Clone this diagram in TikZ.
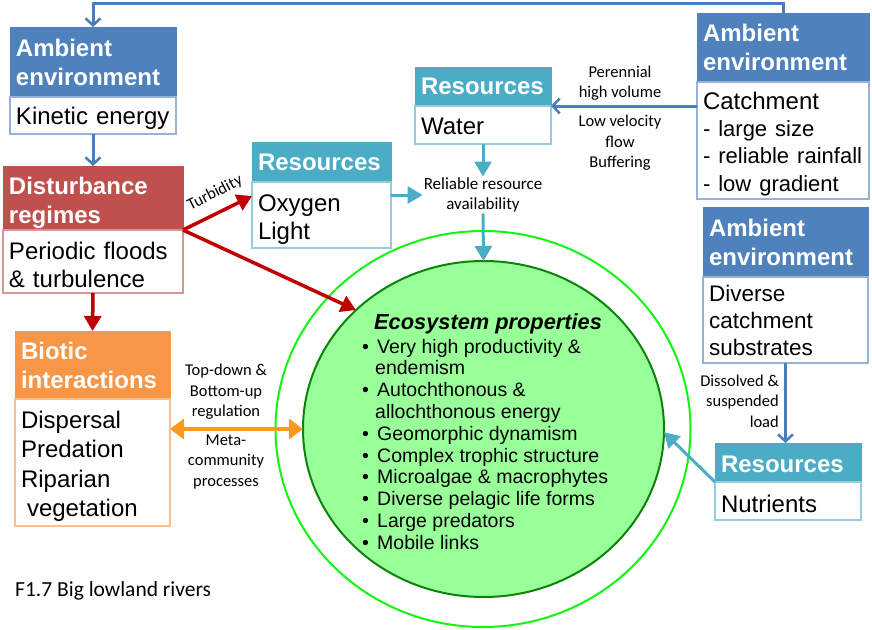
\documentclass[tikz,border=0pt]{standalone}
\usepackage{fontspec}
\setmainfont{Liberation Sans}
\newfontfamily\calib{Carlito}
\usetikzlibrary{arrows.meta,shapes.geometric,calc}
\definecolor{ambblue}{HTML}{4F81BD}
\definecolor{distred}{HTML}{C0504D}
\definecolor{bioorange}{HTML}{F79646}
\definecolor{rescyan}{HTML}{4BACC6}
\definecolor{arrred}{HTML}{C00000}
\definecolor{arrblue}{HTML}{4A7EBB}
\definecolor{orangeA}{HTML}{F89A20}
\definecolor{ecofill}{HTML}{99FF99}
\definecolor{ecodark}{HTML}{0A840A}
\definecolor{ecolime}{HTML}{11F511}
\tikzset{
  hdr/.style={anchor=north west, fill=#1, draw=#1, text=white, inner xsep=6pt, inner ysep=0pt, outer sep=0pt, align=left, font=\fontsize{24}{29}\selectfont\bfseries, line width=1pt},
  bdy/.style={anchor=north west, fill=white, draw=#1!60!white, inner xsep=6pt, inner ysep=0pt, outer sep=0pt, align=left, font=\fontsize{24}{28}\selectfont, line width=1.2pt},
  shifttext/.style={execute at begin node={\rule{0pt}{#1}}},
  lbl/.style={font=\calib\fontsize{16.5}{20.5}\selectfont, align=center, inner sep=1pt},
  bluearr/.style={draw=arrblue, line width=3pt, -{Straight Barb[length=7pt,width=15pt,line width=2.5pt]}},
  redarr/.style={draw=arrred, line width=3.5pt, -{Triangle[length=15pt,width=17pt]}},
  cyanarr/.style={draw=rescyan, line width=3pt, -{Triangle[length=15pt,width=17pt]}},
  orangearr/.style={draw=orangeA, line width=4pt, {Triangle[length=14pt,width=20pt]}-{Triangle[length=14pt,width=20pt]}},
  ecotxt/.style={anchor=base west, inner sep=0pt, font=\fontsize{19.5}{22}\selectfont},
}
\begin{document}
\begin{tikzpicture}[x=1pt,y=-1pt]
\useasboundingbox (0,0) rectangle (872,629);
% ellipses
\node[ellipse, draw=ecolime, line width=2pt, minimum width=415pt, minimum height=396pt, inner sep=0pt] (ecoout) at (483,429) {};
\node[ellipse, draw=ecodark, fill=ecofill, line width=2pt, minimum width=361pt, minimum height=336pt, inner sep=0pt, outer sep=0pt] (eco) at (483.5,429) {};
% boxes
\node[hdr=ambblue, text width=154pt, minimum height=70pt] (a1h) at (10,27) {Ambient\\environment};
\node[bdy=ambblue, text width=154pt, minimum height=37pt, shifttext=23.6pt] (a1b) at (a1h.south west) {Kinetic energy};
\node[hdr=distred, text width=168pt, minimum height=64pt, shifttext=27.6pt] (dh) at (3,166) {Disturbance\\regimes};
\node[bdy=distred, text width=168pt, minimum height=63pt, shifttext=23.6pt] (db) at (dh.south west) {Periodic floods\\\& turbulence};
\node[hdr=bioorange, text width=143pt, minimum height=68pt] (bh) at (15,331) {Biotic\\interactions};
\node[bdy=bioorange, text width=143pt, minimum height=127pt, font=\fontsize{24}{29.5}\selectfont, shifttext=25pt] (bb) at (bh.south west) {Dispersal\\Predation\\Riparian\\\hspace*{6pt}vegetation};
\node[hdr=rescyan, text width=127pt, minimum height=40pt] (oxh) at (252,142) {Resources};
\node[bdy=rescyan, text width=127pt, minimum height=66pt, shifttext=25.5pt] (oxb) at (oxh.south west) {Oxygen\\Light};
\node[hdr=rescyan, text width=124pt, minimum height=39pt] (wh) at (415,67) {Resources};
\node[bdy=rescyan, text width=124pt, minimum height=38pt, shifttext=20pt] (wb) at (wh.south west) {Water};
\node[hdr=ambblue, text width=160pt, minimum height=69pt] (a2h) at (697,13) {Ambient\\environment};
\node[bdy=ambblue, text width=160pt, minimum height=117pt, shifttext=23.6pt] (a2b) at (a2h.south west) {Catchment\\\fontsize{22}{27}\selectfont - large size\\- reliable rainfall\\- low gradient};
\node[hdr=ambblue, text width=153pt, minimum height=70pt] (a3h) at (703,207) {Ambient\\environment};
\node[bdy=ambblue, text width=153pt, minimum height=86pt, font=\fontsize{22.5}{27}\selectfont] (a3b) at (a3h.south west) {Diverse\\catchment\\substrates};
\node[hdr=rescyan, text width=134pt, minimum height=39pt, shifttext=21pt] (nh) at (715,443) {Resources};
\node[bdy=rescyan, text width=134pt, minimum height=38pt, shifttext=23.6pt] (nb) at (nh.south west) {Nutrients};
% labels
\node[lbl, font=\calib\fontsize{17}{20}\selectfont] (rel) at (483,195) {Reliable resource\\availability};
\node[lbl, rotate=27] (turb) at (215,193) {Turbidity};
\node[lbl] (per) at (620,83) {Perennial\\high volume};
\node[lbl] (lowv) at (620,143) {Low velocity\\flow\\Buffering};
\node[lbl] (topd) at (226,392) {Top-down \&\\Bottom-up\\regulation};
\node[lbl] (meta) at (226,462) {Meta-\\community\\processes};
\node[lbl, align=right, anchor=east] (diss) at (780,401) {Dissolved \&\\suspended\\load};
\node[anchor=base west, inner sep=0pt, font=\calib\fontsize{21.5}{24}\selectfont] (cap) at (15,596) {F1.7 Big lowland rivers};
% ecosystem text
\node[ecotxt, font=\fontsize{21.8}{24}\selectfont\bfseries\itshape] (et) at (374,329) {Ecosystem properties};
\foreach \b/\t [count=\i from 0] in {1/{Very high productivity \&},0/{endemism},1/{Autochthonous \&},0/{allochthonous energy},1/{Geomorphic dynamism},1/{Complex trophic structure},1/{Microalgae \& macrophytes},1/{Diverse pelagic life forms},1/{Large predators},1/{Mobile links}}
  \node[ecotxt] (eb\i) at (362,{353+21.8*\i}) {\ifnum\b=1 \makebox[15pt][l]{\textbullet}\else\hspace*{13pt}\fi\t};
% connectors
\draw[bluearr] (a2h.north) -- ++(0,-10) -| (a1h.north);
\draw[bluearr] (a1b.south) -- (dh.north);
\draw[redarr] (db.south) -- (bh.north);
\draw[redarr] (db.north east) -- ([yshift=-14pt]oxb.north west);
\draw[redarr] (db.north east) -- (eco.137);
\draw[cyanarr] (wb.south) -- (rel.north);
\draw[cyanarr] (oxb.north east |- rel.west) -- (rel.west);
\draw[cyanarr] (rel.south) -- (eco.north);
\draw[bluearr] (a2b.west |- wh.south east) -- (wh.south east);
\draw[bluearr] (a3b.south) -- (a3b.south |- nh.north);
\draw[cyanarr] (nb.north west) -- (eco.-1);
\draw[orangearr] (bb.east |- eco.west) -- (eco.west);
\end{tikzpicture}
\end{document}
